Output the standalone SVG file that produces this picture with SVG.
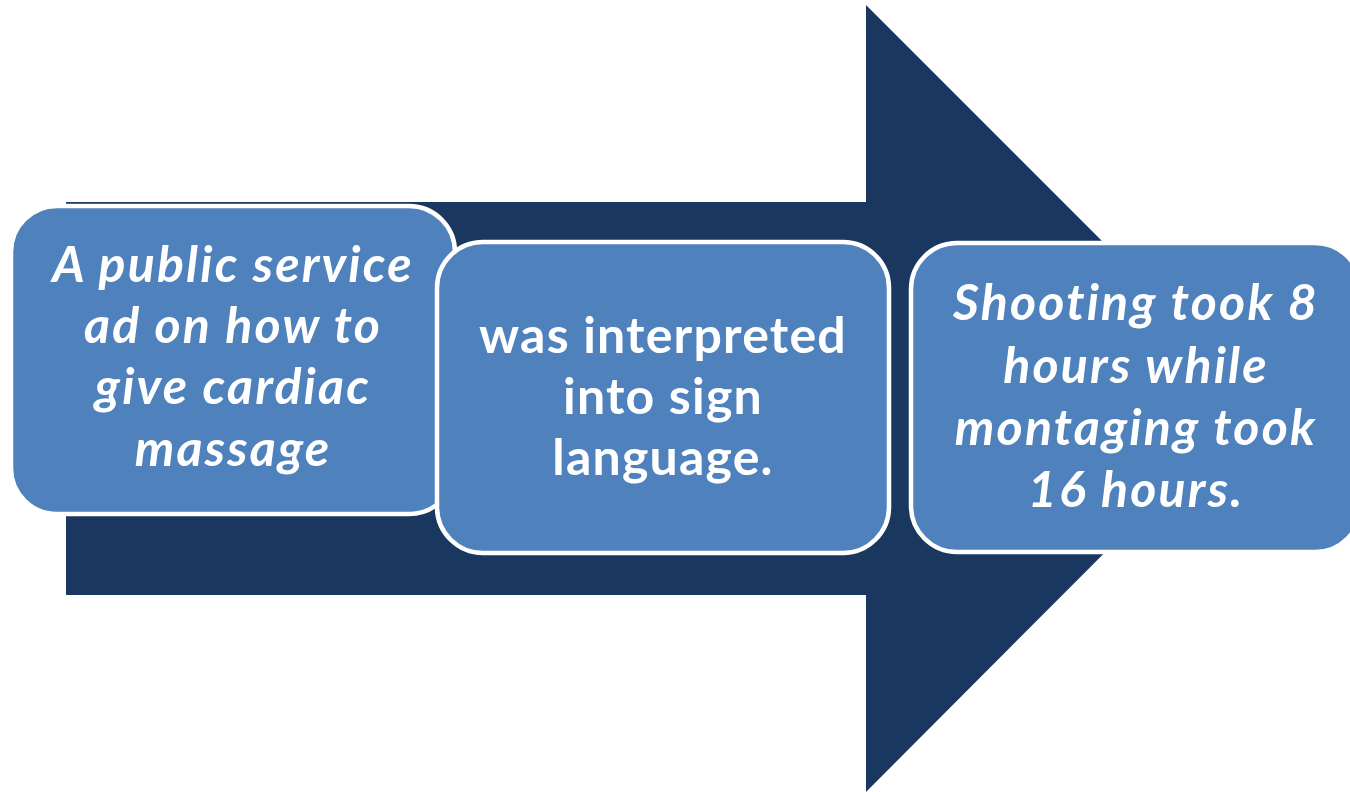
<svg xmlns="http://www.w3.org/2000/svg" width="1350" height="792" viewBox="0 0 1350 792">
<style>
.box{fill:#4F81BD;stroke:#FFFFFF;stroke-width:4.5}
.t{font-family:Lato,"Open Sans","Liberation Sans",sans-serif;font-weight:bold;font-size:50px;fill:#FFFFFF;text-anchor:middle;font-variant-ligatures:none;letter-spacing:1.2px}
.i{font-style:italic;letter-spacing:2.2px}
</style>
<rect width="1350" height="792" fill="#FFFFFF"/>
<g id="connectors">
<polygon id="arrow" points="66,202 866,202 866,5 1259,398 866,792 866,595 66,595" fill="#1A375F"/>
</g>
<g id="node1">
<rect class="box" x="11" y="206" width="444" height="308" rx="46" ry="46"/>
<text class="t i" x="233"><tspan x="233" y="282">A public service</tspan><tspan x="233" y="343">ad on how to</tspan><tspan x="233" y="404">give cardiac</tspan><tspan x="233" y="466">massage</tspan></text>
</g>
<g id="node2">
<rect class="box" x="437" y="242" width="452" height="311" rx="46" ry="46"/>
<text class="t" x="663"><tspan x="663" y="353">was interpreted</tspan><tspan x="663" y="414">into sign</tspan><tspan x="663" y="475">language.</tspan></text>
</g>
<g id="node3">
<rect class="box" x="911" y="243" width="450" height="309" rx="46" ry="46"/>
<text class="t i" x="1136"><tspan x="1136" y="320">Shooting took 8</tspan><tspan x="1136" y="383">hours while</tspan><tspan x="1136" y="445">montaging took</tspan><tspan x="1136" y="507">16 hours.</tspan></text>
</g>
</svg>
